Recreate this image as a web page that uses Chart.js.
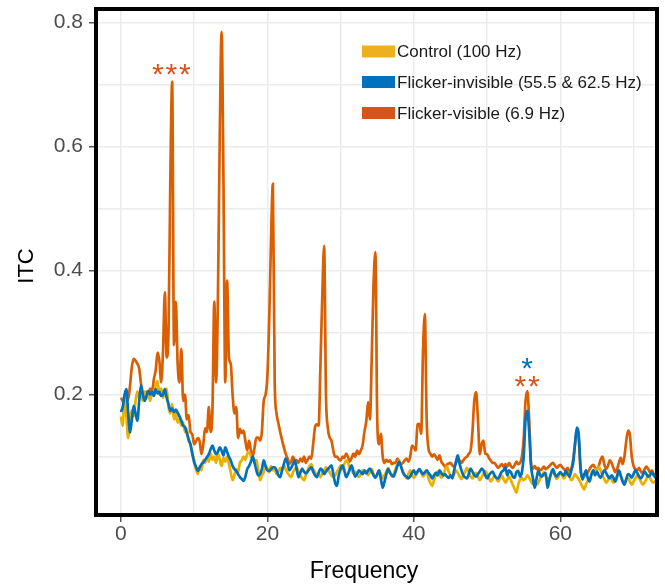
<!DOCTYPE html>
<html>
<head>
<meta charset="utf-8">
<script src="https://cdn.jsdelivr.net/npm/chart.js@4.4.1/dist/chart.umd.min.js"></script>
<style>
  html, body { margin: 0; padding: 0; background: #fff; }
  #wrap { width: 665px; height: 585px; }
</style>
</head>
<body>
<div id="wrap"><canvas id="itcChart" width="665" height="585"></canvas></div>
<script>
// ITC spectra, sampled every 0.25 Hz from 0 to 73 Hz
const FREQ_STEP = 0.25;

// one row = 5 Hz
const control = [
  .165,.15,.2,.165,.13,.16,.175,.165,.19,.205,.195,.2,.19,.205,.195,.2,.19,.205,.2,.215,
  .222,.2,.21,.195,.205,.21,.18,.17,.185,.16,.17,.155,.16,.15,.155,.14,.145,.125,.12,.105,
  .095,.08,.072,.085,.078,.095,.09,.1,.092,.105,.095,.1,.09,.105,.095,.085,.098,.092,.1,.088,
  .075,.062,.07,.08,.075,.09,.094,.1,.095,.105,.107,.1,.097,.09,.095,.08,.062,.07,.075,.085,
  .081,.075,.085,.078,.08,.072,.076,.082,.078,.086,.08,.074,.07,.067,.075,.08,.083,.076,.07,.065,
  .062,.07,.078,.085,.088,.08,.075,.07,.072,.067,.074,.078,.083,.08,.075,.07,.067,.07,.076,.08,
  .086,.08,.088,.094,.09,.082,.078,.073,.076,.07,.067,.072,.078,.074,.076,.07,.075,.08,.072,.068,
  .07,.078,.072,.065,.07,.076,.082,.075,.068,.072,.08,.088,.094,.085,.076,.07,.065,.072,.078,.07,
  .066,.07,.075,.08,.074,.068,.072,.078,.065,.058,.053,.062,.07,.076,.072,.066,.07,.078,.085,.076,
  .07,.066,.072,.078,.074,.068,.064,.07,.076,.082,.075,.068,.065,.07,.074,.068,.062,.067,.072,.077,
  .072,.066,.06,.064,.07,.066,.06,.065,.07,.064,.058,.063,.068,.062,.055,.048,.042,.055,.063,.066,
  .062,.065,.07,.066,.06,.056,.062,.055,.058,.065,.07,.075,.068,.062,.066,.072,.076,.07,.064,.068,
  .074,.07,.065,.07,.075,.068,.062,.066,.072,.068,.064,.058,.052,.047,.055,.062,.066,.07,.076,.08,
  .078,.084,.078,.07,.064,.058,.062,.068,.064,.058,.062,.07,.075,.068,.062,.058,.062,.066,.06,.055,
  .06,.065,.07,.066,.06,.055,.058,.064,.07,.066,.06,.058,.062
];

const flickerInvisible = [
  .172,.18,.2,.209,.17,.139,.16,.182,.17,.158,.19,.215,.2,.19,.198,.206,.2,.205,.198,.209,
  .202,.205,.198,.2,.209,.195,.185,.174,.178,.172,.176,.171,.165,.158,.15,.148,.138,.128,.12,.105,
  .091,.084,.077,.082,.088,.091,.095,.099,.104,.112,.118,.11,.104,.108,.115,.11,.102,.115,.108,.1,
  .094,.085,.08,.077,.072,.067,.064,.061,.068,.08,.085,.092,.1,.09,.078,.07,.072,.08,.094,.085,
  .078,.077,.08,.083,.083,.078,.07,.067,.078,.088,.097,.09,.078,.082,.088,.094,.08,.067,.074,.081,
  .076,.073,.076,.08,.083,.076,.07,.067,.074,.081,.078,.072,.076,.08,.083,.086,.072,.058,.053,.07,
  .08,.086,.078,.067,.072,.08,.086,.076,.068,.072,.078,.075,.072,.078,.073,.078,.081,.076,.07,.066,
  .072,.078,.064,.05,.06,.072,.08,.074,.07,.068,.076,.085,.092,.084,.075,.07,.068,.065,.068,.074,
  .078,.072,.076,.08,.076,.072,.075,.078,.074,.07,.065,.07,.074,.07,.078,.074,.07,.072,.068,.066,
  .07,.065,.078,.092,.102,.088,.078,.07,.067,.065,.072,.081,.076,.07,.068,.072,.076,.081,.078,.07,
  .065,.07,.074,.076,.07,.066,.065,.07,.076,.078,.083,.07,.078,.075,.068,.066,.075,.077,.068,.075,
  .1,.16,.174,.14,.085,.066,.05,.065,.077,.07,.068,.072,.074,.05,.062,.074,.08,.072,.068,.072,
  .075,.072,.07,.077,.072,.068,.078,.09,.12,.147,.138,.085,.063,.07,.078,.065,.06,.072,.078,.07,
  .076,.07,.066,.072,.078,.074,.068,.065,.07,.066,.06,.068,.078,.07,.06,.055,.064,.072,.07,.066,
  .072,.078,.074,.068,.065,.07,.076,.072,.068,.07,.075,.07,.066
];

const flickerVisible = [
  .195,.19,.18,.2,.193,.215,.245,.258,.255,.25,.242,.217,.2,.195,.205,.2,.21,.205,.225,.239,
  .268,.255,.22,.27,.365,.26,.3,.55,.705,.28,.35,.25,.22,.274,.19,.2,.16,.167,.14,.136,
  .12,.125,.13,.125,.104,.12,.146,.14,.18,.14,.175,.35,.22,.36,.62,.785,.55,.22,.384,.26,
  .25,.2,.17,.18,.13,.145,.138,.142,.125,.11,.126,.11,.1,.115,.131,.131,.126,.14,.19,.2,
  .23,.32,.45,.54,.22,.17,.154,.14,.127,.115,.105,.097,.089,.092,.1,.094,.094,.09,.097,.092,
  .1,.09,.095,.1,.097,.12,.147,.152,.15,.25,.36,.44,.2,.147,.131,.126,.11,.1,.1,.096,
  .094,.1,.098,.105,.1,.092,.098,.105,.1,.11,.104,.11,.118,.14,.157,.188,.16,.26,.38,.43,
  .16,.12,.137,.1,.09,.095,.092,.094,.088,.09,.09,.097,.092,.088,.09,.094,.097,.092,.1,.118,
  .115,.11,.152,.153,.137,.27,.33,.16,.113,.105,.1,.104,.1,.095,.102,.092,.088,.084,.087,.089,
  .09,.086,.084,.09,.094,.094,.09,.094,.098,.1,.105,.11,.14,.19,.204,.16,.104,.12,.126,.105,
  .104,.098,.094,.09,.09,.086,.082,.085,.088,.084,.088,.084,.09,.085,.082,.086,.092,.088,.09,.1,
  .13,.19,.206,.16,.09,.08,.085,.08,.082,.078,.08,.084,.08,.082,.085,.088,.09,.086,.082,.085,
  .087,.083,.08,.078,.082,.076,.08,.095,.12,.14,.13,.08,.066,.072,.07,.075,.08,.085,.087,.082,
  .08,.085,.095,.1,.088,.08,.085,.094,.09,.082,.075,.08,.09,.098,.088,.1,.125,.142,.135,.1,
  .085,.08,.078,.082,.076,.074,.08,.084,.08,.075,.078,.072,.07
];

const seriesNames = ['Control (100 Hz)', 'Flicker-invisible (55.5 & 62.5 Hz)', 'Flicker-visible (6.9 Hz)'];

const xTicks = [0, 10, 20, 30, 40, 50, 60, 70];
const xTickLabels = ['0', '', '20', '', '40', '', '60', ''];
const yTicks = [0.1, 0.2, 0.3, 0.4, 0.5, 0.6, 0.7, 0.8];
const yTickLabels = ['', '0.2', '', '0.4', '', '0.6', '', '0.8'];

// significance marks: [freq, ITC, text, colour]
const sigMarks = [
  [6.9, 0.729, '***', '#d95319'],
  [55.45, 0.255, '*', '#0072bd'],
  [55.45, 0.226, '**', '#d95319']
];

const lineColors = ['#e9b000', '#0072bd', '#d95f02'];
const swatchColors = ['#edb120', '#0072bd', '#d95319'];
const FONT = '"Liberation Sans", Arial, Helvetica, sans-serif';

const toPoints = arr => arr.map((v, i) => ({ x: i * FREQ_STEP, y: v }));

// frame, legend, asterisks and axis titles
const overlay = {
  id: 'overlay',
  afterDatasetsDraw(chart) {
    const { ctx, chartArea: a, scales } = chart;
    ctx.save();
    ctx.strokeStyle = '#000';
    ctx.lineWidth = 4;
    ctx.strokeRect(a.left, a.top, a.right - a.left, a.bottom - a.top);

    // asterisks
    const size = 30;
    ctx.font = size + 'px ' + FONT;
    ctx.textAlign = 'center';
    ctx.textBaseline = 'alphabetic';
    sigMarks.forEach(([f, v, txt, col]) => {
      const cx = scales.x.getPixelForValue(f);
      const cy = scales.y.getPixelForValue(v);
      ctx.fillStyle = col;
      const n = txt.length, gap = 13.5;
      for (let k = 0; k < n; k++) {
        ctx.fillText('*', cx + (k - (n - 1) / 2) * gap, cy + size * 0.57);
      }
    });

    // legend
    ctx.font = '17px ' + FONT;
    ctx.textAlign = 'left';
    ctx.textBaseline = 'middle';
    const rowY = [51.5, 82, 113];
    seriesNames.forEach((name, i) => {
      ctx.fillStyle = swatchColors[i];
      ctx.fillRect(362, rowY[i] - 6, 33, 12);
      ctx.fillStyle = '#1a1a1a';
      ctx.fillText(name, 397, rowY[i] + 1);
    });

    // axis titles
    ctx.fillStyle = '#000';
    ctx.font = '23px ' + FONT;
    ctx.textAlign = 'center';
    ctx.fillText('Frequency', 364, 572);
    ctx.font = '22px ' + FONT;
    ctx.translate(27, 266);
    ctx.rotate(-Math.PI / 2);
    ctx.fillText('ITC', 0, 0);
    ctx.restore();
  }
};

const gridColor = '#ebebeb';
const tickMarkColor = (labels, ticks) => c => {
  const i = ticks.indexOf(c.tick && +c.tick.value.toFixed(2));
  return i >= 0 && labels[i] !== '' ? '#555' : 'rgba(0,0,0,0)';
};

new Chart(document.getElementById('itcChart').getContext('2d'), {
  type: 'line',
  data: {
    datasets: [
      { label: seriesNames[1], data: toPoints(flickerInvisible), borderColor: lineColors[1], order: 0 },
      { label: seriesNames[0], data: toPoints(control), borderColor: lineColors[0], order: 1 },
      { label: seriesNames[2], data: toPoints(flickerVisible), borderColor: lineColors[2], order: 2 }
    ]
  },
  options: {
    responsive: false,
    animation: false,
    devicePixelRatio: 1,
    layout: { padding: { top: 9, right: 8, left: 0, bottom: 0 } },
    elements: {
      point: { radius: 0 },
      line: { borderWidth: 2.7, cubicInterpolationMode: 'monotone' }
    },
    plugins: { legend: { display: false }, tooltip: { enabled: false } },
    scales: {
      x: {
        type: 'linear',
        min: -3.4,
        max: 73.2,
        afterBuildTicks: s => { s.ticks = xTicks.map(v => ({ value: v })); },
        afterFit: s => { s.height = 70; s.paddingLeft = 0; s.paddingRight = 0; },
        border: { display: false },
        grid: {
          color: gridColor,
          lineWidth: 1.5,
          tickLength: 7,
          tickWidth: 1.5,
          tickColor: tickMarkColor(xTickLabels, xTicks)
        },
        ticks: {
          autoSkip: false,
          maxRotation: 0,
          padding: 0,
          color: '#4d4d4d',
          font: { family: FONT, size: 21 },
          callback: v => xTickLabels[xTicks.indexOf(v)] ?? ''
        }
      },
      y: {
        min: 0.006,
        max: 0.822,
        afterBuildTicks: s => { s.ticks = yTicks.map(v => ({ value: v })); },
        afterFit: s => { s.width = 96; s.paddingTop = 0; s.paddingBottom = 0; },
        border: { display: false },
        grid: {
          color: gridColor,
          lineWidth: 1.5,
          tickLength: 7,
          tickWidth: 1.5,
          tickColor: tickMarkColor(yTickLabels, yTicks)
        },
        ticks: {
          autoSkip: false,
          padding: 6,
          color: '#4d4d4d',
          font: { family: FONT, size: 21 },
          callback: v => yTickLabels[yTicks.indexOf(+v.toFixed(2))] ?? ''
        }
      }
    }
  },
  plugins: [overlay]
});
</script>
</body>
</html>
